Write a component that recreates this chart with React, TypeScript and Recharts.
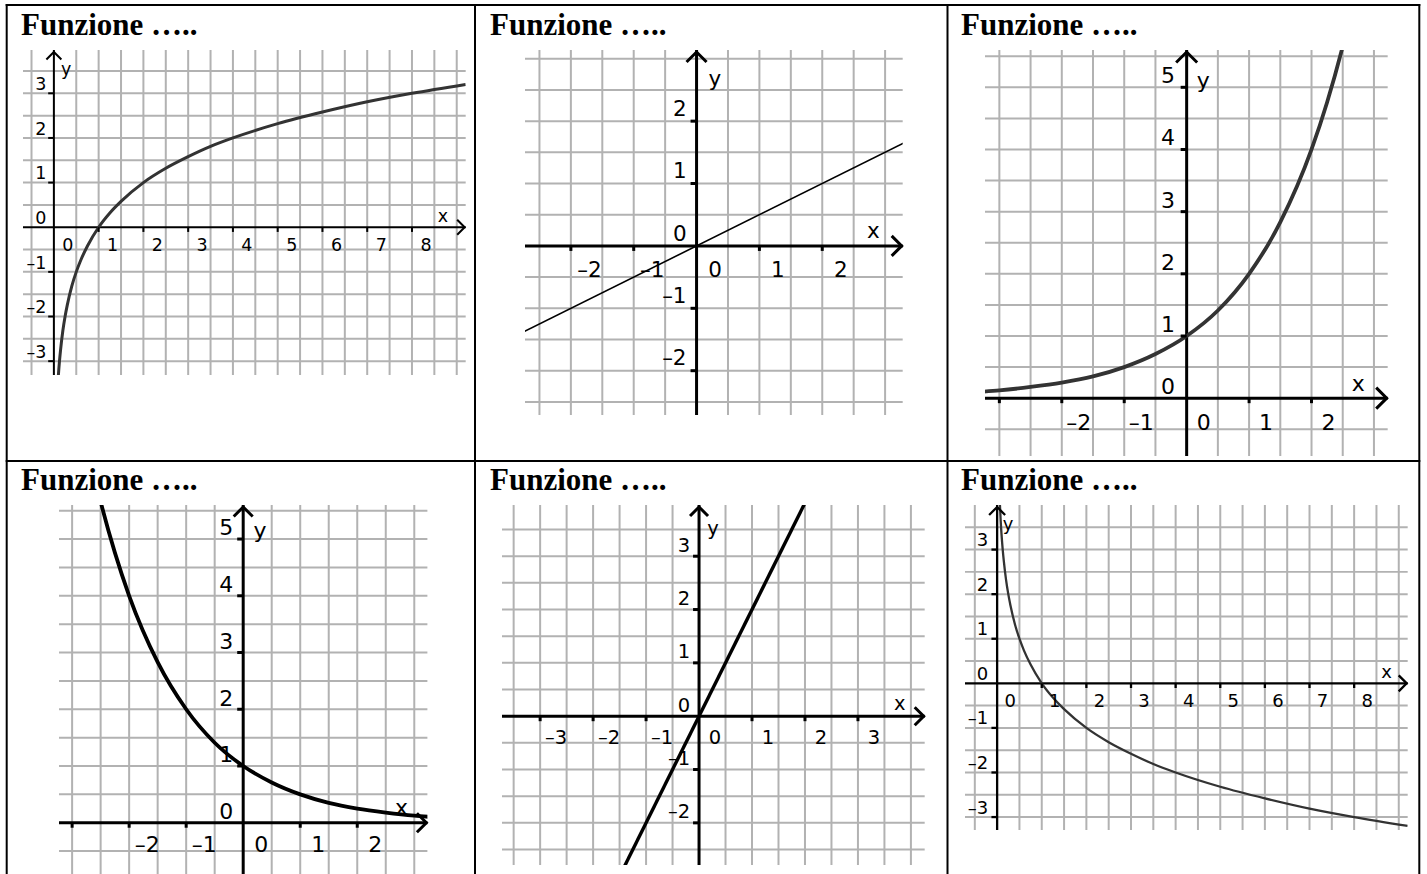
import { LineChart, Line, XAxis, YAxis, ReferenceLine, ReferenceDot } from 'recharts';

// values
const logX = [0.06, 0.08, 0.1, 0.125, 0.15, 0.2, 0.25, 0.3, 0.4, 0.5, 0.6, 0.75, 1, 1.25, 1.5, 2, 2.5, 3, 3.5, 4, 5, 6, 7, 8, 9.2];
const log2Y = [-4.06, -3.64, -3.32, -3, -2.74, -2.32, -2, -1.74, -1.32, -1, -0.74, -0.42, 0, 0.32, 0.58, 1, 1.32, 1.58, 1.81, 2, 2.32, 2.58, 2.81, 3, 3.2];
const logHalfY = [4.06, 3.64, 3.32, 3, 2.74, 2.32, 2, 1.74, 1.32, 1, 0.74, 0.42, 0, -0.32, -0.58, -1, -1.32, -1.58, -1.81, -2, -2.32, -2.58, -2.81, -3, -3.2];

const exp2X = [-3.25, -3, -2.5, -2, -1.5, -1, -0.5, 0, 0.5, 1, 1.5, 2, 2.25, 2.5, 2.75];
const exp2Y = [0.105, 0.125, 0.18, 0.25, 0.35, 0.5, 0.71, 1, 1.41, 2, 2.83, 4, 4.76, 5.66, 6.73];
const expHalfX = [-2.75, -2.5, -2.25, -2, -1.5, -1, -0.5, 0, 0.5, 1, 1.5, 2, 2.5, 3, 3.25];
const expHalfY = [6.73, 5.66, 4.76, 4, 2.83, 2, 1.41, 1, 0.71, 0.5, 0.35, 0.25, 0.18, 0.125, 0.105];

const lineHalfX = [-3, 3.5];
const lineHalfY = [-1.5, 1.75];
const lineDoubleX = [-1.5, 2];
const lineDoubleY = [-3, 4];

const title = 'Funzione …..';

// grid lines (every half unit) and tick labels
const gridLogX = [-0.5, 0.5, 1, 1.5, 2, 2.5, 3, 3.5, 4, 4.5, 5, 5.5, 6, 6.5, 7, 7.5, 8, 8.5, 9];
const gridLogY = [-3, -2.5, -2, -1.5, -1, -0.5, 0.5, 1, 1.5, 2, 2.5, 3, 3.5];
const ticksLogX = [1, 2, 3, 4, 5, 6, 7, 8];
const labelsLogX = [0, 1, 2, 3, 4, 5, 6, 7, 8];
const ticksLogY = [-3, -2, -1, 1, 2, 3];
const labelsLogY = [-3, -2, -1, 0, 1, 2, 3];

const gridHalfX = [-2.5, -2, -1.5, -1, -0.5, 0.5, 1, 1.5, 2, 2.5, 3];
const gridHalfY = [-2.5, -2, -1.5, -1, -0.5, 0.5, 1, 1.5, 2, 2.5, 3];
const ticksHalf = [-2, -1, 1, 2];
const labelsHalf = [-2, -1, 0, 1, 2];

const gridExpX = [-3, -2.5, -2, -1.5, -1, -0.5, 0.5, 1, 1.5, 2, 2.5, 3];
const gridExpY = [-0.5, 0.5, 1, 1.5, 2, 2.5, 3, 3.5, 4, 4.5, 5, 5.5];
const ticksExpX = [-3, -2, -1, 1, 2];
const labelsExpX = [-2, -1, 0, 1, 2];
const ticksExpY = [1, 2, 3, 4, 5];
const labelsExpY = [0, 1, 2, 3, 4, 5];

const gridDoubleX = [-3.5, -3, -2.5, -2, -1.5, -1, -0.5, 0.5, 1, 1.5, 2, 2.5, 3, 3.5, 4];
const gridDoubleY = [-2.5, -2, -1.5, -1, -0.5, 0.5, 1, 1.5, 2, 2.5, 3, 3.5];
const ticksDoubleX = [-3, -2, -1, 1, 2, 3];
const labelsDoubleX = [-3, -2, -1, 0, 1, 2, 3];
const ticksDoubleY = [-2, -1, 1, 2, 3];
const labelsDoubleY = [-2, -1, 0, 1, 2, 3];

const rows = (xs: number[], ys: number[]) => xs.map((x, i) => ({ x, y: ys[i] }));

const M = 14;
const FONT = '"DejaVu Sans", Verdana, sans-serif';
const GRID = '#b2b2b2';

const panels = [
  {
    left: 23.3, right: 466, top: 50, bottom: 375,
    xDomain: [-0.69, 9.2], yDomain: [-3.31, 3.97],
    xGrid: gridLogX, yGrid: gridLogY,
    xTicks: ticksLogX, xLabels: labelsLogX, yTicks: ticksLogY, yLabels: labelsLogY,
    data: rows(logX, log2Y), curve: 'monotone', stroke: '#333', width: 3,
    axis: 2, tick: 4.7, arrow: 7.5, font: 17.5,
    xlab: [14, 17], ylab: [7.6, 9.5], xName: [-22.7, -11.7], yName: [12.4, 21.7],
  },
  {
    left: 525, right: 902.7, top: 50, bottom: 415,
    xDomain: [-2.73, 3.28], yDomain: [-2.71, 3.14],
    xGrid: gridHalfX, yGrid: gridHalfY,
    xTicks: ticksHalf, xLabels: labelsHalf, yTicks: ticksHalf, yLabels: labelsHalf,
    data: rows(lineHalfX, lineHalfY), curve: 'linear', stroke: '#000', width: 1.6,
    axis: 3, tick: 5, arrow: 10, font: 21.5,
    xlab: [18.5, 23], ylab: [10, 13], xName: [-29.4, -16], yName: [18.3, 31.7],
  },
  {
    left: 985, right: 1387.7, top: 50, bottom: 456,
    xDomain: [-3.23, 3.22], yDomain: [-0.93, 5.6],
    xGrid: gridExpX, yGrid: gridExpY,
    xTicks: ticksExpX, xLabels: labelsExpX, yTicks: ticksExpY, yLabels: labelsExpY,
    data: rows(exp2X, exp2Y), curve: 'monotone', stroke: '#333', width: 3.8,
    axis: 3, tick: 5, arrow: 10.5, font: 22,
    xlab: [17, 24], ylab: [11.7, 12], xName: [-29.4, -15], yName: [16.6, 33.3],
  },
  {
    left: 59.3, right: 427.7, top: 505, bottom: 875.5,
    xDomain: [-3.23, 3.23], yDomain: [-0.93, 5.6],
    xGrid: gridExpX, yGrid: gridExpY,
    xTicks: ticksExpX, xLabels: labelsExpX, yTicks: ticksExpY, yLabels: labelsExpY,
    data: rows(expHalfX, expHalfY), curve: 'monotone', stroke: '#000', width: 3.8,
    axis: 3, tick: 5, arrow: 9.5, font: 22,
    xlab: [18, 21], ylab: [10, 11.5], xName: [-26, -16], yName: [16.7, 28.3],
  },
  {
    left: 502.3, right: 925, top: 505, bottom: 865,
    xDomain: [-3.72, 4.26], yDomain: [-2.79, 3.96],
    xGrid: gridDoubleX, yGrid: gridDoubleY,
    xTicks: ticksDoubleX, xLabels: labelsDoubleX, yTicks: ticksDoubleY, yLabels: labelsDoubleY,
    data: rows(lineDoubleX, lineDoubleY), curve: 'linear', stroke: '#000', width: 3.4,
    axis: 3, tick: 5, arrow: 9, font: 19.5,
    xlab: [16, 21], ylab: [9, 11.4], xName: [-25, -13.7], yName: [14, 26],
  },
  {
    left: 965, right: 1407.7, top: 505, bottom: 830,
    xDomain: [-0.72, 9.2], yDomain: [-3.29, 4.0],
    xGrid: gridLogX, yGrid: gridLogY,
    xTicks: ticksLogX, xLabels: labelsLogX, yTicks: ticksLogY, yLabels: labelsLogY,
    data: rows(logX, logHalfY), curve: 'monotone', stroke: '#333', width: 2.3,
    axis: 2.3, tick: 4.7, arrow: 8, font: 18,
    xlab: [13, 17], ylab: [9, 10], xName: [-21, -11.6], yName: [11, 21.7],
  },
];

const fmt = (v: number) => (v < 0 ? `\u2013${-v}` : `${v}`);

function Graph({ p }: { p: any }) {
  const w = p.right - p.left + 2 * M;
  const h = p.bottom - p.top + 2 * M;
  const [, x1] = p.xDomain;
  const [, y1] = p.yDomain;
  const a = p.arrow;
  const txt = { fontFamily: FONT, fontSize: p.font, fill: '#000' };
  return (
    <div style={{ position: 'absolute', left: p.left - M, top: p.top - M }}>
      <LineChart width={w} height={h} data={p.data} margin={{ top: M, right: M, bottom: M, left: M }}>
        <XAxis type="number" dataKey="x" domain={p.xDomain} allowDataOverflow hide />
        <YAxis type="number" domain={p.yDomain} allowDataOverflow hide />
        {p.xGrid.map((v: number) => (
          <ReferenceLine key={'gx' + v} x={v} stroke={GRID} strokeWidth={2} />
        ))}
        {p.yGrid.map((v: number) => (
          <ReferenceLine key={'gy' + v} y={v} stroke={GRID} strokeWidth={2} />
        ))}
        <ReferenceLine y={0} stroke="#000" strokeWidth={p.axis} />
        <ReferenceLine x={0} stroke="#000" strokeWidth={p.axis} />
        {p.xTicks.map((t: number) => (
          <ReferenceDot key={'xt' + t} x={t} y={0} r={1} ifOverflow="visible"
            shape={(s: any) => <line x1={s.cx} y1={s.cy} x2={s.cx} y2={s.cy + p.tick} stroke="#000" strokeWidth={p.axis} />} />
        ))}
        {p.yTicks.map((t: number) => (
          <ReferenceDot key={'yt' + t} x={0} y={t} r={1} ifOverflow="visible"
            shape={(s: any) => <line x1={s.cx - p.tick - 1} y1={s.cy} x2={s.cx} y2={s.cy} stroke="#000" strokeWidth={p.axis} />} />
        ))}
        {p.xLabels.map((t: number) => (
          <ReferenceDot key={'xl' + t} x={t} y={0} r={1} ifOverflow="visible"
            shape={(s: any) => <text x={s.cx + p.xlab[0]} y={s.cy + p.xlab[1]} dy="0.36em" textAnchor="middle" {...txt}>{fmt(t)}</text>} />
        ))}
        {p.yLabels.map((t: number) => (
          <ReferenceDot key={'yl' + t} x={0} y={t} r={1} ifOverflow="visible"
            shape={(s: any) => <text x={s.cx - p.ylab[0]} y={s.cy - p.ylab[1]} dy="0.36em" textAnchor="end" {...txt}>{fmt(t)}</text>} />
        ))}
        <ReferenceDot x={x1} y={0} r={1} ifOverflow="visible"
          shape={(s: any) => (
            <g>
              <polyline points={`${s.cx - 1 - a},${s.cy - a} ${s.cx - 1},${s.cy} ${s.cx - 1 - a},${s.cy + a}`} fill="none" stroke="#000" strokeWidth={p.axis} />
              <text x={s.cx + p.xName[0]} y={s.cy + p.xName[1]} dy="0.36em" textAnchor="middle" {...txt}>x</text>
            </g>
          )} />
        <ReferenceDot x={0} y={y1} r={1} ifOverflow="visible"
          shape={(s: any) => (
            <g>
              <polyline points={`${s.cx - a},${s.cy + 2 + a} ${s.cx},${s.cy + 2} ${s.cx + a},${s.cy + 2 + a}`} fill="none" stroke="#000" strokeWidth={p.axis} />
              <text x={s.cx + p.yName[0]} y={s.cy + p.yName[1]} dy="0.2em" textAnchor="middle" {...txt}>y</text>
            </g>
          )} />
        <Line type={p.curve} dataKey="y" stroke={p.stroke} strokeWidth={p.width} dot={false} isAnimationActive={false} />
      </LineChart>
    </div>
  );
}

const titlePos = [[21, 35], [490, 35], [961, 35], [21, 490], [490, 490], [961, 490]];

export default function App() {
  return (
    <div style={{ position: 'absolute', left: 0, top: 0, width: 1427, height: 874, overflow: 'hidden', background: '#fff' }}>
      <svg width={1427} height={874} style={{ position: 'absolute', left: 0, top: 0 }}>
        {[6.7, 475, 947.5, 1419.3].map((x) => (
          <line key={'v' + x} x1={x} y1={4} x2={x} y2={880} stroke="#000" strokeWidth={2} />
        ))}
        {[5, 461].map((y) => (
          <line key={'h' + y} x1={5.7} y1={y} x2={1420.3} y2={y} stroke="#000" strokeWidth={2} />
        ))}
        {titlePos.map(([x, y]) => (
          <text key={`t${x}-${y}`} x={x} y={y} fontFamily='"Liberation Serif", "Times New Roman", serif' fontWeight="bold" fontSize={31} fill="#000">
            {title}
          </text>
        ))}
      </svg>
      {panels.map((p, i) => (
        <Graph key={i} p={p} />
      ))}
    </div>
  );
}
